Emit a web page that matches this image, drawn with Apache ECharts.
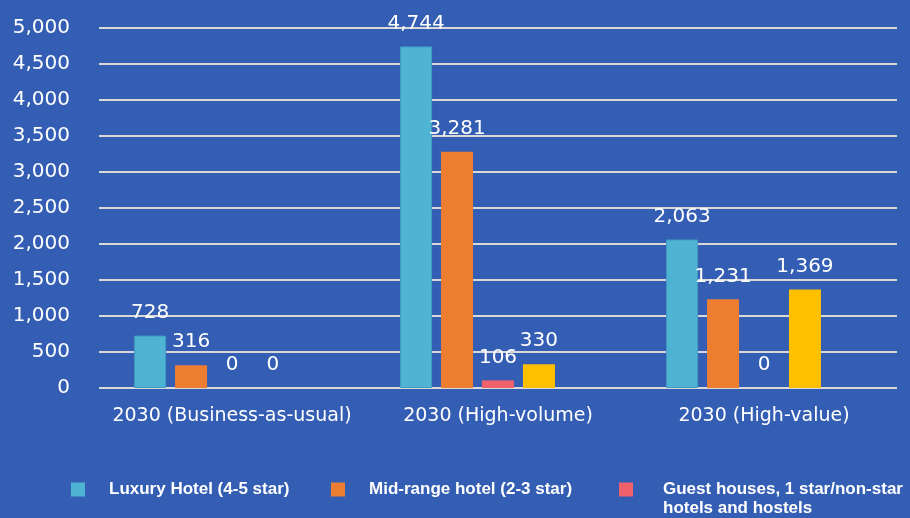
<!DOCTYPE html>
<html>
<head>
<meta charset="utf-8">
<script src="https://cdn.jsdelivr.net/npm/echarts@6/dist/echarts.min.js"></script>
<style>
html,body{margin:0;padding:0;background:#345EB3;}
#chart{width:910px;height:518px;}
</style>
</head>
<body>
<div id="chart"></div>
<script>
var categories = ['2030 (Business-as-usual)', '2030 (High-volume)', '2030 (High-value)'];
var seriesNames = ['Luxury Hotel (4-5 star)', 'Mid-range hotel (2-3 star)', 'Guest houses, 1 star/non-star', 'Series 4', 'Series 5'];
var legendSecondLine = 'hotels and hostels';
var luxury = [728, 4744, 2063];
var midRange = [316, 3281, 1231];
var guestHouses = [0, 106, 0];
var series4 = [0, 330, 1369];
var series5 = [null, null, null];
var yTicks = { min: 0, max: 5000, interval: 500 };

var colors = ['#4FB4D4', '#ED7D31', '#F0616B', '#FFC000', '#A5A5A5'];
var dataSets = [luxury, midRange, guestHouses, series4, series5];

var chart = echarts.init(document.getElementById('chart'));
var font = 'DejaVu Sans';
var legendFont = 'Liberation Sans';

var series = dataSets.map(function (d, i) {
  return {
    name: seriesNames[i],
    type: 'bar',
    data: d,
    barWidth: 32,
    barGap: '28%',
    itemStyle: { color: colors[i], borderColor: '#3F9CC0', borderWidth: i === 0 ? 1 : 0 },
    label: {
      show: i < 4,
      position: 'top',
      distance: 13,
      color: '#ffffff',
      fontFamily: font,
      fontSize: 20,
      formatter: function (p) { return p.value == null ? '' : p.value.toLocaleString('en-US'); }
    },
    z: 3
  };
});

function legendFor(i, left, pad) {
  return {
    show: true,
    data: [seriesNames[i]],
    left: left,
    top: 476,
    itemWidth: 14,
    itemHeight: 14,
    icon: 'rect',
    selectedMode: false,
    itemStyle: { borderWidth: 0 },
    textStyle: {
      color: '#ffffff',
      fontFamily: legendFont,
      fontWeight: 'bold',
      fontSize: 17,
      padding: [0, 0, 0, pad]
    }
  };
}

chart.setOption({
  backgroundColor: '#345EB3',
  animation: false,
  color: colors,
  grid: { left: 99, right: 13, top: 28, bottom: 130, containLabel: false },
  legend: [legendFor(0, 66, 19), legendFor(1, 326, 19), legendFor(2, 614, 25)],
  graphic: [{
    type: 'text',
    left: 663,
    top: 500,
    style: {
      text: legendSecondLine,
      fill: '#ffffff',
      font: 'bold 17px "Liberation Sans"'
    }
  }],
  xAxis: {
    type: 'category',
    data: categories,
    axisLine: { show: false },
    axisTick: { show: false },
    axisLabel: { color: '#ffffff', fontFamily: font, fontSize: 19, margin: 19, interval: 0 }
  },
  yAxis: {
    type: 'value',
    min: yTicks.min,
    max: yTicks.max,
    interval: yTicks.interval,
    axisLine: { show: false },
    axisTick: { show: false },
    axisLabel: {
      color: '#ffffff', fontFamily: font, fontSize: 20, margin: 29,
      formatter: function (v) { return v.toLocaleString('en-US'); }
    },
    splitLine: { lineStyle: { color: '#D9D9D9', width: 2 } }
  },
  series: series
});
</script>
</body>
</html>
